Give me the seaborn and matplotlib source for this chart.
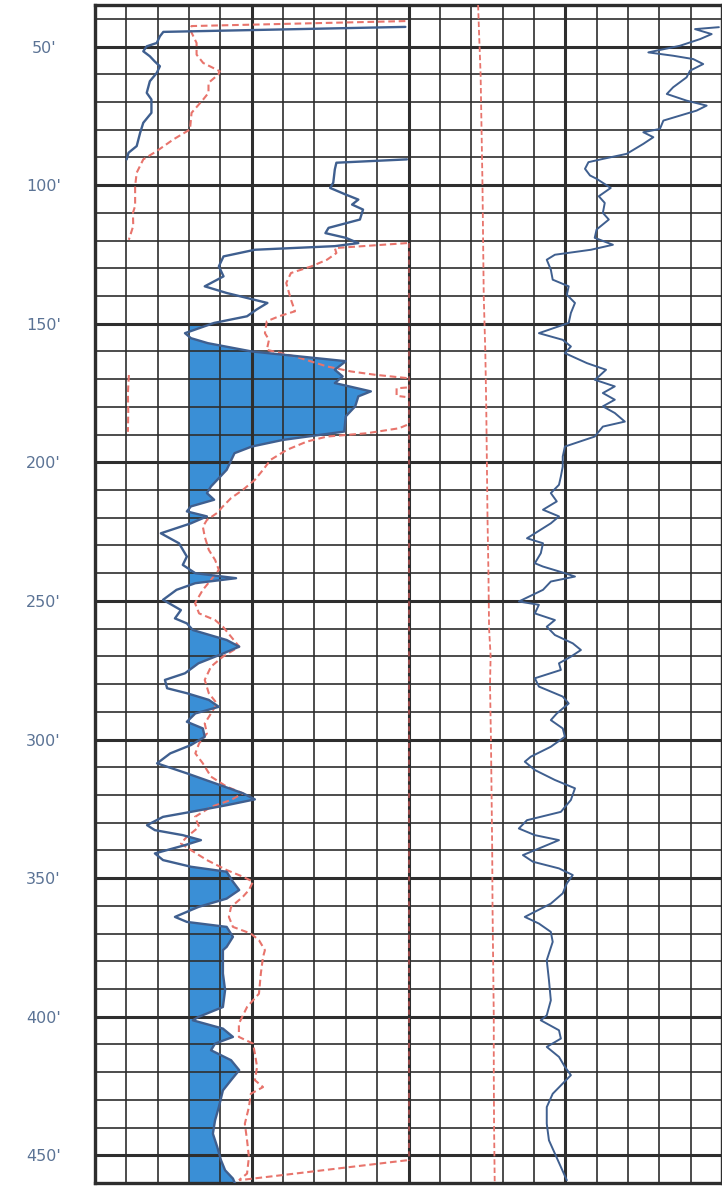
import numpy as np
import matplotlib
matplotlib.use("Agg")
import matplotlib.pyplot as plt
import seaborn as sns

# ---------------- data (depth in feet, value in chart divisions) ----------------
# Left track: SP-type curve, upper (wrapped) segment
sp_top = [(42.9, 9.9), (44.7, 2.18), (46.3, 2.07), (48.7, 1.97), (49.9, 1.65), (51.7, 1.54),
          (53.5, 1.75), (55.3, 1.9), (57.1, 2.07), (59.5, 1.97), (62.5, 1.75), (66.7, 1.65),
          (69.1, 1.8), (73.9, 1.8), (77.5, 1.54), (81.1, 1.44), (85.9, 1.33), (88.3, 1.07),
          (90.7, 1.01)]
# Left track: SP-type curve, main segment
sp_main = [(90.7, 9.95), (91.9, 7.7), (94.3, 7.65), (99.1, 7.6), (101.0, 7.5), (103.4, 8.0),
           (105.2, 8.4), (107.0, 8.2), (108.8, 8.55), (112.4, 8.45), (115.4, 7.45), (117.3, 7.35),
           (119.0, 8.0), (120.9, 8.4), (122.0, 7.65), (123.3, 5.1), (125.7, 4.1), (129.3, 3.95),
           (132.9, 4.1), (136.5, 3.5), (138.9, 4.2), (142.5, 5.5), (144.9, 5.15), (147.3, 4.85),
           (149.7, 3.8), (153.4, 2.87), (155.2, 3.06), (157.0, 3.6), (160.0, 5.0), (163.5, 8.0),
           (166.6, 7.65), (169.0, 7.9), (171.4, 7.65), (174.4, 8.8), (176.2, 8.4), (179.8, 8.3),
           (183.4, 8.0), (188.9, 7.95), (191.9, 6.0), (194.3, 5.0), (196.7, 4.45), (202.7, 4.2),
           (208.7, 3.7), (211.1, 3.57), (213.5, 3.8), (215.9, 3.06), (217.7, 2.93), (219.5, 3.57),
           (222.0, 3.06), (225.6, 2.1), (229.2, 2.68), (234.0, 2.93), (237.0, 2.8), (240.0, 3.2),
           (241.8, 4.5), (243.6, 3.2), (246.0, 2.6), (249.6, 2.17), (253.3, 2.74), (256.3, 2.55),
           (258.1, 2.93), (260.5, 3.12), (264.1, 4.2), (266.5, 4.6), (268.9, 4.1), (272.5, 3.3),
           (276.1, 2.87), (278.5, 2.23), (281.5, 2.3), (283.3, 2.93), (285.7, 3.63), (288.2, 3.95),
           (290.6, 3.2), (293.6, 2.93), (296.0, 3.44), (299.0, 3.5), (302.0, 3.06), (305.0, 2.4),
           (308.6, 1.98), (312.2, 2.93), (315.8, 3.83), (319.4, 4.72), (321.6, 5.1), (323.7, 4.2),
           (326.1, 3.06), (327.9, 2.17), (330.9, 1.66), (332.7, 1.91), (334.5, 2.8), (336.3, 3.38),
           (338.1, 2.87), (341.1, 1.91), (343.5, 2.17), (345.9, 3.06), (347.7, 4.2), (351.3, 4.4),
           (354.3, 4.6), (357.4, 4.2), (360.4, 3.3), (364.0, 2.55), (365.8, 2.93), (367.6, 4.2),
           (371.2, 4.4), (374.8, 4.2), (376.0, 4.08), (379.6, 4.08), (384.4, 4.08), (390.4, 4.15),
           (396.5, 4.08), (400.1, 3.3), (401.3, 3.12), (404.3, 4.08), (407.3, 4.4), (409.7, 3.83),
           (412.1, 3.7), (415.7, 4.34), (419.3, 4.6), (422.9, 4.34), (426.6, 4.08), (432.6, 3.95),
           (437.4, 3.83), (442.2, 3.76), (447.0, 3.9), (451.8, 4.02), (455.4, 4.15), (458.4, 4.4),
           (460.0, 4.46)]
sp_baseline = 3.0
sp_fill_from = 149.0

# Left track: resistivity curve (dashed), wrapped segments
res_a = [(40.8, 9.9), (42.6, 3.08), (43.8, 3.03), (48.7, 3.24), (52.9, 3.24), (55.9, 3.45),
         (58.9, 3.98), (60.1, 3.93), (63.1, 3.62), (66.7, 3.62), (69.1, 3.45), (73.9, 3.08),
         (79.9, 3.03), (83.5, 2.5), (87.7, 1.97), (90.7, 1.54), (95.5, 1.33), (100.3, 1.28),
         (107.5, 1.28), (110.0, 1.21), (114.7, 1.22), (119.7, 1.08)]
res_b = [(120.9, 9.95), (122.7, 7.65), (124.5, 7.7), (126.9, 7.4), (129.3, 6.9), (131.7, 6.25),
         (135.3, 6.1), (141.3, 6.25), (145.5, 6.38), (147.3, 5.87), (149.1, 5.48), (153.4, 5.42),
         (155.8, 5.55), (159.4, 5.48), (161.8, 6.38), (165.4, 7.4), (167.2, 8.16), (168.4, 8.93),
         (169.6, 9.95)]
res_c = [(173.0, 9.95), (173.3, 9.62), (176.0, 9.62), (176.4, 9.9)]
res_backup = [(168.5, 1.08), (175.0, 1.05), (182.0, 1.06), (189.0, 1.05)]
res_d = [(186.5, 9.95), (187.7, 9.7), (189.5, 8.67), (190.7, 7.4), (192.5, 6.76), (195.5, 6.12),
         (199.1, 5.6), (202.7, 5.36), (206.3, 5.1), (209.9, 4.72), (212.9, 4.34), (215.9, 4.08),
         (218.3, 3.89), (220.8, 3.57), (223.2, 3.44), (226.8, 3.5), (231.6, 3.63), (235.2, 3.83),
         (238.8, 3.95), (242.4, 3.7), (246.0, 3.44), (250.8, 3.19), (254.5, 3.32), (256.9, 3.83),
         (259.3, 4.08), (262.9, 4.34), (266.5, 4.6), (270.1, 4.08), (273.7, 3.7), (278.5, 3.5),
         (283.3, 3.63), (287.0, 3.89), (290.6, 3.7), (294.2, 3.5), (297.8, 3.57), (301.4, 3.32),
         (305.0, 3.2), (308.6, 3.44), (313.4, 3.7), (317.0, 4.2), (319.4, 4.72), (321.8, 4.34),
         (324.3, 3.7), (327.9, 3.19), (331.5, 3.32), (335.1, 2.93), (337.5, 2.74), (339.9, 3.06),
         (343.5, 3.57), (347.1, 4.2), (349.5, 4.72), (351.3, 5.04), (354.3, 4.91), (356.7, 4.72),
         (360.4, 4.34), (364.0, 4.27), (367.6, 4.4), (370.0, 4.97), (372.4, 5.23), (376.0, 5.42),
         (378.4, 5.36), (384.4, 5.29), (391.7, 5.23), (396.5, 4.85), (402.5, 4.59), (407.3, 4.59),
         (409.7, 5.04), (413.3, 5.1), (418.1, 5.17), (422.9, 5.1), (425.4, 5.36), (427.8, 4.97),
         (432.6, 4.91), (438.6, 4.78), (444.6, 4.85), (450.6, 4.91), (456.6, 4.85), (459.0, 4.59)]
res_e = [(451.8, 9.95), (459.0, 4.6)]
res_peg = [(121.0, 10.0), (452.0, 10.0)]

# Right track: dashed curve
res2 = [(35, 12.22), (45, 12.25), (60, 12.3), (80, 12.33), (100, 12.36), (120, 12.38), (140, 12.4),
        (160, 12.45), (180, 12.48), (200, 12.5), (220, 12.52), (240, 12.55), (260, 12.57),
        (270, 12.62), (280, 12.6), (300, 12.63), (320, 12.65), (340, 12.67), (360, 12.68),
        (380, 12.7), (400, 12.72), (420, 12.72), (440, 12.73), (460, 12.75)]
# Right track: solid curve
gr = [(43.0, 19.9), (43.7, 19.14), (45.5, 19.67), (47.3, 19.3), (49.7, 18.66), (52.1, 17.65),
      (53.3, 18.44), (54.5, 19.08), (56.3, 19.4), (58.7, 18.98), (61.1, 18.87), (64.7, 18.44),
      (67.1, 18.24), (69.5, 18.87), (71.3, 19.51), (73.1, 19.19), (76.7, 18.13), (79.7, 18.02),
      (80.9, 17.49), (82.7, 17.81), (85.1, 17.49), (88.7, 16.96), (90.5, 16.21), (91.7, 15.74),
      (94.1, 15.63), (96.5, 15.79), (97.7, 16.0), (101.0, 16.45), (104.0, 16.07), (106.4, 16.26),
      (110.0, 16.2), (112.4, 16.39), (116.0, 16.0), (119.0, 15.94), (121.5, 16.52), (123.3, 15.82),
      (125.1, 14.67), (126.9, 14.41), (130.5, 14.54), (134.1, 14.6), (136.5, 15.11), (139.5, 15.05),
      (142.5, 15.31), (146.1, 15.18), (149.7, 15.11), (153.4, 14.16), (155.8, 14.92), (158.2, 15.18),
      (160.6, 14.99), (164.2, 15.69), (166.6, 16.3), (169.0, 16.07), (170.2, 15.94), (172.6, 16.58),
      (175.0, 16.2), (177.4, 16.58), (179.8, 16.2), (182.2, 16.58), (185.3, 16.9), (187.1, 16.2),
      (190.7, 15.94), (194.3, 14.99), (197.9, 14.92), (201.5, 14.92), (205.1, 14.86), (208.1, 14.8),
      (211.1, 14.54), (214.1, 14.73), (217.1, 14.29), (219.5, 14.8), (222.0, 14.54), (225.6, 14.03),
      (227.4, 13.78), (229.2, 14.29), (232.8, 14.22), (236.4, 14.03), (237.6, 14.29), (240.0, 14.99),
      (241.2, 15.31), (243.0, 14.54), (246.0, 14.29), (250.2, 13.52), (251.4, 14.16), (254.5, 14.03),
      (256.9, 14.67), (259.3, 14.41), (262.3, 14.67), (265.3, 15.24), (267.7, 15.5), (270.1, 15.18),
      (272.5, 14.8), (274.9, 14.86), (277.9, 14.03), (280.9, 14.16), (284.5, 14.92), (287.0, 15.11),
      (290.6, 14.73), (293.0, 14.54), (296.0, 14.92), (299.0, 14.99), (302.6, 14.54), (306.2, 13.9),
      (308.0, 13.71), (311.0, 14.03), (314.6, 14.67), (317.6, 15.31), (321.8, 15.18), (326.1, 14.86),
      (329.1, 13.78), (332.1, 13.52), (334.5, 14.03), (336.3, 14.8), (338.7, 14.29), (341.7, 13.65),
      (344.1, 13.97), (346.5, 14.8), (348.9, 15.24), (351.9, 15.05), (355.5, 14.92), (359.2, 14.54),
      (364.0, 13.71), (366.4, 14.16), (369.4, 14.54), (373.0, 14.6), (379.6, 14.41), (386.8, 14.48),
      (394.1, 14.54), (399.5, 14.41), (401.3, 14.22), (404.9, 14.8), (407.9, 14.86), (410.9, 14.41),
      (414.5, 14.8), (418.1, 14.99), (421.1, 15.18), (424.1, 14.92), (427.8, 14.6), (432.6, 14.41),
      (438.6, 14.41), (444.6, 14.48), (449.4, 14.67), (454.2, 14.86), (459.0, 15.05)]

depth_labels = [50, 100, 150, 200, 250, 300, 350, 400, 450]
depth_top, depth_bottom = 35, 460
n_div = 20

# ---------------- plotting ----------------
sns.set_theme(style="white")
plt.rcParams["font.family"] = ["DejaVu Sans"]

BLUE_LINE = "#3f5f8f"
BLUE_FILL = "#3a8fd6"
RED = "#e8746c"
GRID = "#2e2e2e"

fig = plt.figure(figsize=(7.22, 11.86), dpi=100)
ax = fig.add_axes([95 / 722, 3 / 1186, 627 / 722, 1178 / 1186])


def curve(pairs, **kw):
    arr = np.array(pairs, dtype=float)
    sns.lineplot(x=arr[:, 1], y=arr[:, 0], sort=False, estimator=None, orient="y", ax=ax, **kw)
    return arr


# fill of main SP curve to the right of the baseline
main = np.array(sp_main, dtype=float)
ax.fill_betweenx(main[:, 0], sp_baseline, main[:, 1],
                 where=(main[:, 1] > sp_baseline) & (main[:, 0] >= sp_fill_from),
                 interpolate=True, color=BLUE_FILL, lw=0, zorder=1)

dash = dict(color=RED, lw=1.5, linestyle=(0, (3.2, 1.8)), zorder=3)
curve(res_a, **dash)
curve(res_b, **dash)
curve(res_c, **dash)
curve(res_backup, **dash)
curve(res_d, **dash)
curve(res_e, **dash)
curve(res_peg, color="#b05050", lw=1.2, linestyle=(0, (3, 2)), zorder=3)
curve(res2, color=RED, lw=1.3, linestyle=(0, (3.0, 1.6)), zorder=3)

curve(sp_top, color=BLUE_LINE, lw=1.7, zorder=4)
curve(sp_main, color=BLUE_LINE, lw=1.7, zorder=4)
curve(gr, color=BLUE_LINE, lw=1.4, zorder=4)

ax.set_xlim(0, n_div)
ax.set_ylim(depth_bottom, depth_top)
ax.set_xlabel("")
ax.set_ylabel("")

# grid
ax.set_xticks(range(0, n_div + 1, 5))
ax.set_xticks(range(0, n_div + 1), minor=True)
ax.set_yticks(depth_labels)
ax.set_yticklabels([f"{d}'" for d in depth_labels])
ax.set_yticks(range(40, depth_bottom + 1, 10), minor=True)
ax.set_axisbelow("line")
ax.grid(which="major", color=GRID, lw=2.2)
ax.grid(which="minor", color=GRID, lw=1.2)
ax.tick_params(axis="x", which="both", length=0, labelbottom=False)
ax.tick_params(axis="y", which="both", length=0, pad=37, labelsize=11.5,
               labelcolor="#5b7395")
for lbl in ax.get_yticklabels():
    lbl.set_horizontalalignment("center")
for s in ax.spines.values():
    s.set_visible(True)
    s.set_color(GRID)
    s.set_linewidth(2.4)

fig.savefig("out.png", dpi=100)
